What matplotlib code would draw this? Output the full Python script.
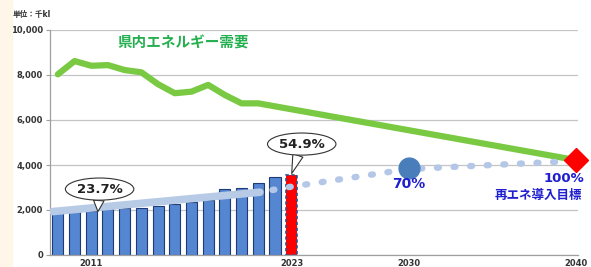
import matplotlib
matplotlib.use("Agg")
import matplotlib.pyplot as plt
from matplotlib.patches import Rectangle

plt.rcParams['font.family'] = ['DejaVu Sans', 'Noto Sans CJK JP']

# data (千kl)
bar_years = list(range(2009, 2023))
bar_vals = [2000, 1930, 1960, 2030, 2070, 2100, 2180, 2250, 2360, 2440, 2920, 2990, 3190, 3450]
red_year = 2023
red_val = 3570

demand_years = [2009, 2010, 2011, 2012, 2013, 2014, 2015, 2016, 2017, 2018, 2019, 2020, 2021, 2040]
demand_vals = [8030, 8620, 8410, 8440, 8220, 8120, 7590, 7190, 7260, 7560, 7110, 6740, 6740, 4220]

trend_x = [2008.7, 2021.1]
trend_y = [1930, 2790]
target_x = [2021.85, 2023, 2030, 2040]
target_y = [2890, 3040, 3820, 4180]

goal_2030 = 3850
goal_2040 = 4220

fig = plt.figure(figsize=(5.91, 2.67), dpi=100)
fig.patches.append(Rectangle((0, 0), 12 / 591, 1, transform=fig.transFigure,
                             color='#fdf6e9', zorder=0))
ax = fig.add_axes([50 / 591, 12 / 267, 528 / 591, 225 / 267])

ax.set_xlim(2008.53, 2040.14)
ax.set_ylim(0, 10000)

ax.bar(bar_years, bar_vals, width=0.66, color='#5486d2', edgecolor='#1f3b73',
       linewidth=0.8, zorder=2)
ax.bar([red_year], [red_val], width=0.66, color='#ff0000', edgecolor='#2f4f8f',
       linewidth=1.2, linestyle=(0, (2, 1.5)), zorder=2)

ax.plot(demand_years, demand_vals, color='#7ac943', lw=4.5, solid_joinstyle='round',
        solid_capstyle='round', zorder=3)

ax.plot(trend_x, trend_y, color='#b7cae6', lw=5.5, solid_capstyle='round', zorder=4)
ax.plot(target_x, target_y, color='#b4c7e7', lw=4.6, linestyle=(0, (0.3, 2.3)),
        dash_capstyle='round', zorder=4)

ax.plot([2030], [goal_2030], 'o', ms=15, color='#4a7ebb', zorder=5)
ax.plot([2040], [goal_2040], 'D', ms=12.5, color='#ff0000', zorder=6, clip_on=False)

# speech bubbles
bub = dict(boxstyle='ellipse,pad=0.1', fc='white', ec='#333333', lw=0.8)
wedge = dict(arrowstyle='wedge,tail_width=0.8,shrink_factor=0.5', fc='white',
             ec='#333333', lw=0.8, shrinkA=0, shrinkB=0)
ax.annotate('23.7%', xy=(2011.4, 1930), xytext=(2011.5, 2930), ha='center', va='center',
            fontsize=9.5, fontweight='bold', color='#222222', bbox=bub,
            arrowprops=wedge, zorder=7)
ax.annotate('54.9%', xy=(2023.0, 3620), xytext=(2023.6, 4930), ha='center', va='center',
            fontsize=9.5, fontweight='bold', color='#222222', bbox=bub,
            arrowprops=wedge, zorder=7)

ax.text(2030, 3150, '70%', ha='center', va='center', fontsize=10, fontweight='bold',
        color='#1f1fd0', zorder=7)
ax.text(2040.5, 3420, '100%', ha='right', va='center', fontsize=9.5, fontweight='bold',
        color='#1f1fd0', zorder=7)
ax.text(2040.4, 2650, '再エネ導入目標', ha='right', va='center', fontsize=9,
        fontweight='bold', color='#1f1fd0', zorder=7)
ax.text(2016.5, 9400, '県内エネルギー需要', ha='center', va='center', fontsize=10.5,
        fontweight='bold', color='#25b04f', zorder=7)

fig.text(13 / 591, 1 - 14 / 267, '単位：千kl', ha='left', va='center', fontsize=5.5,
         fontweight='bold', color='#333333')

ax.set_yticks([0, 2000, 4000, 6000, 8000, 10000])
ax.set_yticklabels(['0', '2,000', '4,000', '6,000', '8,000', '10,000'],
                   fontsize=6, fontweight='bold', color='#333333')
ax.set_xticks([2011, 2023, 2030, 2040])
ax.set_xticklabels(['2011', '2023', '2030', '2040'], fontsize=6, fontweight='bold',
                   color='#333333')
ax.tick_params(axis='x', length=0, pad=3)
ax.tick_params(axis='y', length=3, color='#a0a0a0', pad=2)

ax.grid(axis='y', color='#c4c4c4', lw=0.9, zorder=0)
ax.set_axisbelow(True)
for side in ['top', 'right']:
    ax.spines[side].set_visible(False)
for side in ['left', 'bottom']:
    ax.spines[side].set_color('#a0a0a0')
    ax.spines[side].set_linewidth(0.9)

fig.savefig('out.png', dpi=100)
